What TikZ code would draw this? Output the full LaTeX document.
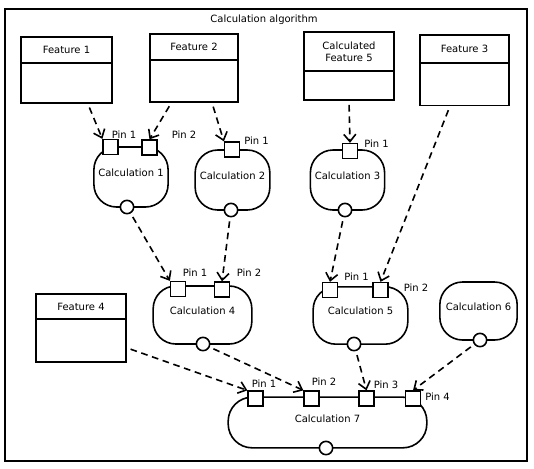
\documentclass[tikz,border=0pt]{standalone}
\usepackage{fontspec}
\setmainfont{DejaVu Sans}
\usetikzlibrary{positioning,arrows.meta}

\begin{document}
\begin{tikzpicture}[
      x=0.75pt, y=-0.75pt, % coordonnees en pixels, y vers le bas
      every node/.style={font=\fontsize{7.5}{9}\selectfont},
      algframe/.style={
          draw, line width=1.4pt,
          minimum width=391.5pt, minimum height=339pt
      },
      feathead/.style={
          draw, line width=1.2pt, fill=white, align=center,
          minimum width=67pt, minimum height=20pt
      },
      featbody/.style={
          draw, line width=1.2pt, fill=white,
          minimum width=67pt, minimum height=31pt
      },
      calcbox/.style={
          draw, line width=1.2pt, rounded corners=17pt,
          text depth=7pt, minimum height=44pt
      },
      pinbox/.style={
          draw, line width=1.2pt, fill=white,
          minimum size=11pt, inner sep=0pt
      },
      outport/.style={
          draw, circle, line width=1.2pt, fill=white,
          minimum size=10pt, inner sep=0pt
      },
      pinlbl/.style={inner sep=0pt},
      dataflow/.style={
          line width=1.2pt, dash pattern=on 5pt off 3.5pt,
          -{Straight Barb[length=5.5pt,width=9pt]}, shorten <=3pt
      }
  ]
      \useasboundingbox (0,0) rectangle (534,468);

      % Cadre
      \node[algframe] (alg) at (266,235) {};
      \node (title) at (264,20) {Calculation algorithm};

      % Features
      \node[feathead, minimum width=68pt, minimum height=19.5pt] (f1h) at (66.5,50) {Feature 1};
      \node[featbody, minimum width=68pt, minimum height=30pt, below=-1.2pt of f1h] (f1b) {};

      \node[feathead, minimum width=66pt, minimum height=19.5pt] (f2h) at (194,47) {Feature 2};
      \node[featbody, minimum width=66pt, minimum height=31.5pt, below=-1.2pt of f2h] (f2b) {};

      \node[feathead, minimum width=67.5pt, minimum height=29pt] (f5h) at (349,51.5) {Calculated\\ Feature 5};
      \node[featbody, minimum width=67.5pt, minimum height=22pt, below=-1.2pt of f5h] (f5b) {};

      \node[feathead, minimum height=21pt] (f3h) at (464.5,49) {Feature 3};
      \node[featbody, minimum height=32pt, below=-1.2pt of f3h] (f3b) {};

      \node[feathead, minimum width=67.5pt, minimum height=19pt] (f4h) at (81,306.5) {Feature 4};
      \node[featbody, minimum width=67.5pt, minimum height=32pt, below=-1.2pt of f4h] (f4b) {};

      % Calculations
      \node[calcbox, minimum width=54pt, minimum height=45pt] (c1) at (131,177) {Calculation 1};
      \node[calcbox, minimum width=56pt, minimum height=45pt] (c2) at (232.5,180) {Calculation 2};
      \node[calcbox, minimum width=55pt, minimum height=45pt] (c3) at (347.5,180) {Calculation 3};
      \node[calcbox, minimum width=74pt, minimum height=43.5pt] (c4) at (202.5,315) {Calculation 4};
      \node[calcbox, minimum width=71pt, minimum height=43pt] (c5) at (360.5,315.5) {Calculation 5};
      \node[calcbox, minimum width=58pt, minimum height=43.5pt] (c6) at (478.5,311) {Calculation 6};
      \node[calcbox, minimum width=149pt, minimum height=38pt, rounded corners=18pt, text depth=5pt] (c7) at (327.5,422.5) {Calculation 7};

      % Sorties
      \node[outport] (o1) at (127,207) {};
      \node[outport] (o2) at (231,210) {};
      \node[outport] (o3) at (345,210) {};
      \node[outport] (o4) at (203,344) {};
      \node[outport] (o5) at (354,344) {};
      \node[outport] (o6) at (480,340) {};
      \node[outport] (o7) at (326,448) {};

      % Pins
      \node[pinbox] (p11) at (110.5,147) {};
      \node[pinbox] (p12) at (149.5,147.5) {};
      \node[pinbox] (p21) at (232,149.5) {};
      \node[pinbox] (p31) at (350,151) {};
      \node[pinbox] (p41) at (178,289) {};
      \node[pinbox] (p42) at (222,289.5) {};
      \node[pinbox] (p51) at (330,290) {};
      \node[pinbox] (p52) at (380.5,290) {};
      \node[pinbox] (p71) at (255.5,398.5) {};
      \node[pinbox] (p72) at (311.5,398.5) {};
      \node[pinbox] (p73) at (366.5,398.5) {};
      \node[pinbox] (p74) at (413,398.5) {};

      \node[pinlbl] (l11) at (124,135) {Pin 1};
      \node[pinlbl] (l12) at (184,135) {Pin 2};
      \node[pinlbl] (l21) at (256.5,141) {Pin 1};
      \node[pinlbl] (l31) at (376.5,144) {Pin 1};
      \node[pinlbl] (l41) at (195,273) {Pin 1};
      \node[pinlbl] (l42) at (249,273) {Pin 2};
      \node[pinlbl] (l51) at (356.5,277) {Pin 1};
      \node[pinlbl] (l52) at (416,288) {Pin 2};
      \node[pinlbl] (l71) at (264,384) {Pin 1};
      \node[pinlbl] (l72) at (324,382) {Pin 2};
      \node[pinlbl] (l73) at (386,385) {Pin 3};
      \node[pinlbl] (l74) at (437.5,397) {Pin 4};

      % Flux de donnees
      \draw[dataflow] ([xshift=16pt]f1b.south) -- (p11.north west);
      \draw[dataflow] ([xshift=-17pt]f2b.south) -- (p12.north);
      \draw[dataflow] ([xshift=13.5pt]f2b.south) -- (p21.north west);
      \draw[dataflow] (f5b.south) -- (p31.north);
      \draw[dataflow] ([xshift=-11pt]f3b.south) -- (p52.north);
      \draw[dataflow] (o1) -- (p41.north west);
      \draw[dataflow] (o2) -- (p42.north);
      \draw[dataflow] (o3) -- (p51.north);
      \draw[dataflow] ([yshift=-5.5pt]f4b.east) -- (p71.north west);
      \draw[dataflow] (o4) -- (p72.north west);
      \draw[dataflow] (o5) -- (p73.north);
      \draw[dataflow] (o6) -- (p74.north);
  \end{tikzpicture}
\end{document}
